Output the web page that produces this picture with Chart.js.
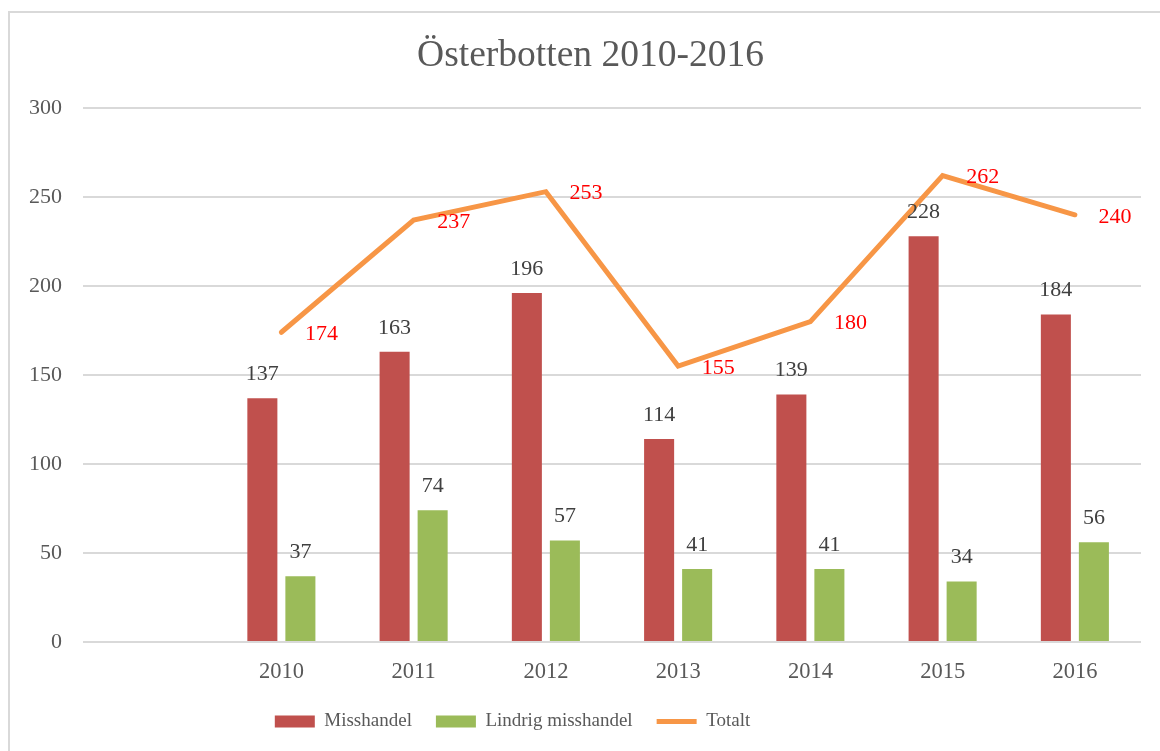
<!DOCTYPE html>
<html>
<head>
<meta charset="utf-8">
<script src="https://cdn.jsdelivr.net/npm/chart.js@4"></script>
<style>
  html, body { margin: 0; padding: 0; background: #fff; overflow: hidden; }
  #wrap { position: relative; width: 1160px; height: 751px; }
  #frame { position: absolute; left: 8px; top: 11px; width: 1200px; height: 800px; border: 2px solid #d9d9d9; box-sizing: border-box; }
  canvas { position: absolute; left: 0; top: 0; }
</style>
</head>
<body>
<div id="wrap">
  <div id="frame"></div>
  <canvas id="chart" width="1160" height="751"></canvas>
</div>
<script>
const years = ['', '2010', '2011', '2012', '2013', '2014', '2015', '2016'];
const misshandel = [null, 137, 163, 196, 114, 139, 228, 184];
const lindrig = [null, 37, 74, 57, 41, 41, 34, 56];
const totalt = [null, 174, 237, 253, 155, 180, 262, 240];

const serif = '"Liberation Serif", "Times New Roman", serif';

// value labels above bars and beside the line points
const valueLabels = {
  id: 'valueLabels',
  afterDatasetsDraw(chart) {
    const ctx = chart.ctx;
    ctx.save();
    ctx.font = '22px ' + serif;
    ctx.textAlign = 'center';
    ctx.textBaseline = 'middle';
    chart.data.datasets.forEach((ds, di) => {
      const meta = chart.getDatasetMeta(di);
      meta.data.forEach((el, i) => {
        const v = ds.data[i];
        if (v == null) return;
        if (ds.type === 'line') {
          ctx.fillStyle = '#ff0000';
          ctx.fillText(v, el.x + 40, el.y + 2);
        } else {
          ctx.fillStyle = '#404040';
          ctx.fillText(v, el.x, el.y - 24);
        }
      });
    });
    ctx.restore();
  }
};

// nudge title right and legend left, as in the original
const shiftBoxes = {
  id: 'shiftBoxes',
  afterLayout(chart) {
    if (chart.titleBlock) { chart.titleBlock.left += 20; chart.titleBlock.right += 20; }
    if (chart.legend) { chart.legend.left -= 58; chart.legend.right -= 58; }
  }
};

new Chart(document.getElementById('chart'), {
  data: {
    labels: years,
    datasets: [
      { type: 'bar', label: 'Misshandel', data: misshandel, backgroundColor: '#c0504d', order: 2 },
      { type: 'bar', label: 'Lindrig misshandel', data: lindrig, backgroundColor: '#9bbb59', order: 2 },
      { type: 'line', label: 'Totalt', data: totalt, borderColor: '#f79646', backgroundColor: '#f79646',
        borderWidth: 5, pointRadius: 0, borderCapStyle: 'round', borderJoinStyle: 'miter', tension: 0, order: 1 }
    ]
  },
  options: {
    responsive: false,
    animation: false,
    layout: { padding: { top: 12, right: 19, bottom: 10, left: 0 } },
    datasets: { bar: { categoryPercentage: 0.575, barPercentage: 0.79 } },
    plugins: {
      title: {
        display: true,
        text: 'Österbotten 2010-2016',
        color: '#595959',
        font: { family: serif, size: 37.5, weight: 'normal' },
        padding: { top: 22, bottom: 29 }
      },
      legend: {
        position: 'bottom',
        labels: {
          color: '#595959',
          font: { family: serif, size: 19 },
          usePointStyle: true,
          pointStyleWidth: 40,
          boxHeight: 12,
          padding: 24,
          sort: (a, b) => a.datasetIndex - b.datasetIndex,
          generateLabels(chart) {
            const items = Chart.defaults.plugins.legend.labels.generateLabels(chart);
            items.forEach(it => {
              const ds = chart.data.datasets[it.datasetIndex];
              it.pointStyle = ds.type === 'line' ? 'line' : 'rect';
              it.lineWidth = ds.type === 'line' ? 5 : 0;
            });
            return items;
          }
        }
      },
      tooltip: { enabled: false }
    },
    scales: {
      x: {
        grid: { display: false, drawTicks: false },
        border: { display: false },
        ticks: { color: '#595959', font: { family: serif, size: 22.5 }, padding: 17 },
        afterFit(scale) { scale.height = 46; }
      },
      y: {
        min: 0, max: 300,
        ticks: { stepSize: 50, color: '#595959', font: { family: serif, size: 22 }, padding: 21 },
        grid: { color: '#d9d9d9', lineWidth: 2, drawTicks: false },
        border: { display: false },
        afterFit(scale) { scale.width = 83; }
      }
    }
  },
  plugins: [valueLabels, shiftBoxes]
});
</script>
</body>
</html>
